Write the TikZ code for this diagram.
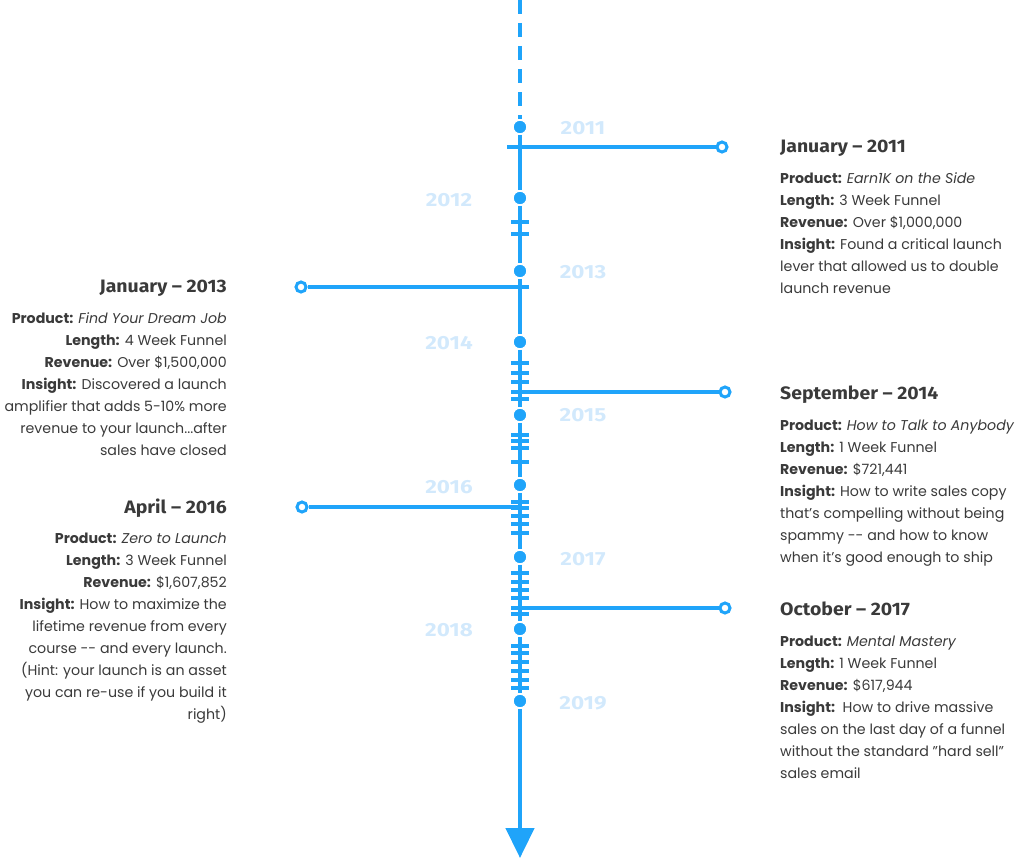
\documentclass[tikz,border=0pt]{standalone}
\usepackage{fontspec}
\setmainfont{Poppins}
\newfontfamily\headfont[FakeStretch=1.08]{Fira Sans}
\newfontfamily\yearfont[FakeStretch=1.18]{Fira Sans}
\usetikzlibrary{arrows.meta}
\definecolor{tl}{HTML}{1FA4FA}
\definecolor{yr}{HTML}{D2E9FC}
\definecolor{txt}{HTML}{3A3A3A}
\begin{document}
\begin{tikzpicture}[x=1pt,y=-1pt,
  dot/.style={circle, fill=tl, draw=white, line width=1.5pt, inner sep=0pt, minimum size=14pt},
  endc/.style={circle, draw=tl, fill=white, line width=3pt, inner sep=0pt, minimum size=10pt},
  axis/.style={draw=tl, line width=4.5pt},
  tickln/.style={draw=tl, line width=3.5pt},
  branch/.style={draw=tl, line width=3.5pt},
  yearlbl/.style={font=\yearfont\bfseries\fontsize{19}{19}\selectfont, text=yr, inner sep=0pt},
  head/.style={font=\headfont\bfseries\fontsize{18}{20}\selectfont, text=txt, inner sep=0pt},
  body/.style={font=\fontsize{14.2}{22}\selectfont, text=txt, inner sep=0pt}]
\useasboundingbox (0,0) rectangle (1024,859);
% axis nodes
\coordinate (top) at (520,0);
\node[dot] (d11) at (520,127) {};
\node[dot] (d12) at (520,198) {};
\node[dot] (d13) at (520,271) {};
\node[dot] (d14) at (520,342) {};
\node[dot] (d15) at (520,415) {};
\node[dot] (d16) at (520,485) {};
\node[dot] (d17) at (520,557) {};
\node[dot] (d18) at (520,629) {};
\node[dot] (d19) at (520,701) {};
\coordinate (tip) at (520,858);
% axis
\draw[axis, dash pattern=on 14pt off 9pt] (top) -- (d11);
\draw[axis] (d11) -- (d12);
\draw[axis] (d12) -- (d13);
\draw[axis] (d13) -- (d14);
\draw[axis] (d14) -- (d15);
\draw[axis] (d15) -- (d16);
\draw[axis] (d16) -- (d17);
\draw[axis] (d17) -- (d18);
\draw[axis] (d18) -- (d19);
\draw[axis, -{Triangle[width=28pt,length=30pt]}] (d19) -- (tip);
% ticks
\foreach \y in {222,234, 363,373,382,392,399, 435,441,448,462, 502,508,516,524,533, 573,582,590,598,608,614, 646,653,662,671,680,688}
  \draw[tickln] (511,\y) -- (529,\y);
% branches
\coordinate (b1) at (507,147);
\node[endc] (e1) at (722,147) {};
\draw[branch] (b1) -- (e1);
\coordinate (b2) at (529,287);
\node[endc] (e2) at (301,287) {};
\draw[branch] (b2) -- (e2);
\coordinate (b3) at (511,392);
\node[endc] (e3) at (725,392) {};
\draw[branch] (b3) -- (e3);
\coordinate (b4) at (520,507);
\node[endc] (e4) at (302,507) {};
\draw[branch] (b4) -- (e4);
\coordinate (b5) at (511,608);
\node[endc] (e5) at (725,608) {};
\draw[branch] (b5) -- (e5);
% years
\node[yearlbl] (y11) at (583,128) {2011};
\node[yearlbl] (y12) at (449,200) {2012};
\node[yearlbl] (y13) at (583,272) {2013};
\node[yearlbl] (y14) at (449,343) {2014};
\node[yearlbl] (y15) at (583,415) {2015};
\node[yearlbl] (y16) at (449,487) {2016};
\node[yearlbl] (y17) at (583,559) {2017};
\node[yearlbl] (y18) at (449,630) {2018};
\node[yearlbl] (y19) at (583,703) {2019};
% headings
\node[head, anchor=base west] (h1) at (780,152) {January – 2011};
\node[head, anchor=base east] (h2) at (227,292) {January – 2013};
\node[head, anchor=base west] (h3) at (780,399) {September – 2014};
\node[head, anchor=base east] (h4) at (227,513) {April – 2016};
\node[head, anchor=base west] (h5) at (780,615) {October – 2017};
% bodies
\node[body, align=left, anchor=north west] (t1) at (780,172) {\textbf{Product:} \textit{Earn1K on the Side}\\
\textbf{Length:} 3 Week Funnel\\
\textbf{Revenue:} Over \$1,000,000\\
\textbf{Insight:} Found a critical launch\\
lever that allowed us to double\\
launch revenue};
\node[body, align=right, anchor=north east] (t2) at (227,312) {\textbf{Product:} \textit{Find Your Dream Job}\\
\textbf{Length:} 4 Week Funnel\\
\textbf{Revenue:} Over \$1,500,000\\
\textbf{Insight:} Discovered a launch\\
amplifier that adds 5-10\% more\\
revenue to your launch...after\\
sales have closed};
\node[body, align=left, anchor=north west] (t3) at (780,420) {\textbf{Product:} \textit{How to Talk to Anybody}\\
\textbf{Length:} 1 Week Funnel\\
\textbf{Revenue:} \$721,441\\
\textbf{Insight:} How to write sales copy\\
that’s compelling without being\\
spammy -{}- and how to know\\
when it’s good enough to ship};
\node[body, align=right, anchor=north east] (t4) at (227,533) {\textbf{Product:} \textit{Zero to Launch}\\
\textbf{Length:} 3 Week Funnel\\
\textbf{Revenue:} \$1,607,852\\
\textbf{Insight:} How to maximize the\\
lifetime revenue from every\\
course -{}- and every launch.\\
(Hint: your launch is an asset\\
you can re-use if you build it\\
right)};
\node[body, align=left, anchor=north west] (t5) at (780,636) {\textbf{Product:} \textit{Mental Mastery}\\
\textbf{Length:} 1 Week Funnel\\
\textbf{Revenue:} \$617,944\\
\textbf{Insight:}\ \ How to drive massive\\
sales on the last day of a funnel\\
without the standard "hard sell"\\
sales email};
\end{tikzpicture}
\end{document}
